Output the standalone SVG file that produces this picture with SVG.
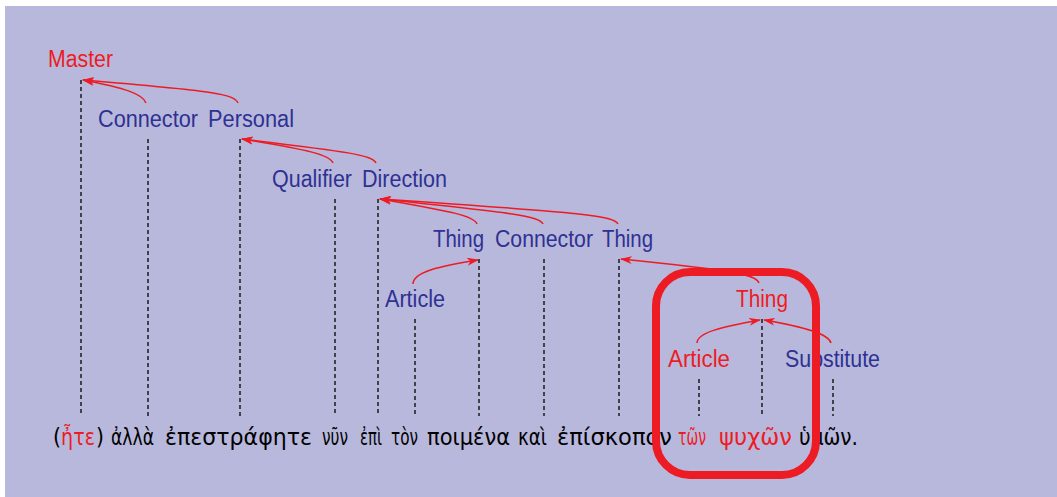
<svg xmlns="http://www.w3.org/2000/svg" width="1057" height="497" viewBox="0 0 1057 497">
<style>
.lbl{font-family:"Liberation Sans",Arial,sans-serif;font-size:23px}
.b{fill:#2e3192}
.r{fill:#ed1c24}
.dash{stroke:#1a1a1a;stroke-width:1.5;stroke-dasharray:4 3;fill:none}
.arr{stroke:#ed1c24;stroke-width:1.5;fill:none;marker-end:url(#ah)}
.gk{font-family:"DejaVu Sans","Noto Sans",sans-serif;font-size:23px;fill:#000}
</style>
<defs>
<marker id="ah" viewBox="0 0 12 8" refX="11" refY="4" markerWidth="12" markerHeight="8" markerUnits="userSpaceOnUse" orient="auto">
<path d="M0,0 L12,4 L0,8 L3.5,4 Z" fill="#ed1c24"/>
</marker>
</defs>
<rect x="0" y="0" width="1057" height="497" fill="#ffffff"/>
<rect x="5" y="6" width="1052" height="491" fill="#b8b8dc"/>

<g id="n-master"><line class="dash" x1="81" y1="80" x2="81" y2="416"/><text class="lbl r" x="48" y="67" textLength="65" lengthAdjust="spacingAndGlyphs">Master</text></g>
<g id="n-connector1"><line class="dash" x1="148" y1="139" x2="148" y2="416"/><text class="lbl b" x="98" y="127" textLength="100" lengthAdjust="spacingAndGlyphs">Connector</text></g>
<g id="n-personal"><line class="dash" x1="240" y1="139" x2="240" y2="416"/><text class="lbl b" x="208" y="127" textLength="86" lengthAdjust="spacingAndGlyphs">Personal</text></g>
<g id="n-qualifier"><line class="dash" x1="335" y1="199" x2="335" y2="416"/><text class="lbl b" x="272" y="187" textLength="80" lengthAdjust="spacingAndGlyphs">Qualifier</text></g>
<g id="n-direction"><line class="dash" x1="378" y1="199" x2="378" y2="416"/><text class="lbl b" x="362" y="187" textLength="85" lengthAdjust="spacingAndGlyphs">Direction</text></g>
<g id="n-article1"><line class="dash" x1="415" y1="319" x2="415" y2="416"/><text class="lbl b" x="385" y="307" textLength="60" lengthAdjust="spacingAndGlyphs">Article</text></g>
<g id="n-thing1"><line class="dash" x1="479" y1="259" x2="479" y2="416"/><text class="lbl b" x="433" y="247" textLength="51" lengthAdjust="spacingAndGlyphs">Thing</text></g>
<g id="n-connector2"><line class="dash" x1="544" y1="259" x2="544" y2="416"/><text class="lbl b" x="495" y="247" textLength="98" lengthAdjust="spacingAndGlyphs">Connector</text></g>
<g id="n-thing2"><line class="dash" x1="619" y1="259" x2="619" y2="416"/><text class="lbl b" x="602" y="247" textLength="51" lengthAdjust="spacingAndGlyphs">Thing</text></g>
<g id="n-article2"><line class="dash" x1="699" y1="379" x2="699" y2="416"/><text class="lbl r" x="668" y="367" textLength="62" lengthAdjust="spacingAndGlyphs">Article</text></g>
<g id="n-thing3"><line class="dash" x1="762" y1="319" x2="762" y2="416"/><text class="lbl r" x="736" y="307" textLength="52" lengthAdjust="spacingAndGlyphs">Thing</text></g>
<g id="n-substitute"><line class="dash" x1="833" y1="379" x2="833" y2="416"/><text class="lbl b" x="785" y="367" textLength="95" lengthAdjust="spacingAndGlyphs">Substitute</text></g>

<g id="connectors">
<path class="arr" d="M146,103 C143,94 125,88 83,80"/>
<path class="arr" d="M238,103 C234,94 215,91 83,80"/>
<path class="arr" d="M333,163 C330,155 310,150 242,139"/>
<path class="arr" d="M376,163 C372,155 350,152 242,139"/>
<path class="arr" d="M477,224 C474,216 455,212 380,199"/>
<path class="arr" d="M543,224 C539,216 515,213 380,199"/>
<path class="arr" d="M618,224 C614,216 590,213 380,199"/>
<path class="arr" d="M413,284 C413,272 440,266 478,260"/>
<path class="arr" d="M759,283 C756,274 730,270 621,259"/>
<path class="arr" d="M697,343 C697,333 720,327 760,320"/>
<path class="arr" d="M831,343 C829,334 805,327 764,320"/>
</g>

<g id="sentence">
<text class="gk" y="445"><tspan x="53" textLength="8" lengthAdjust="spacingAndGlyphs">(</tspan><tspan x="61" textLength="34" lengthAdjust="spacingAndGlyphs" fill="#ed1c24">ἦτε</tspan><tspan x="96" textLength="8" lengthAdjust="spacingAndGlyphs">)</tspan><tspan x="111" textLength="43" lengthAdjust="spacingAndGlyphs">ἀλλὰ</tspan><tspan x="165" textLength="147" lengthAdjust="spacingAndGlyphs">ἐπεστράφητε</tspan><tspan x="322" textLength="26" lengthAdjust="spacingAndGlyphs">νῦν</tspan><tspan x="360" textLength="22" lengthAdjust="spacingAndGlyphs">ἐπὶ</tspan><tspan x="391" textLength="27" lengthAdjust="spacingAndGlyphs">τὸν</tspan><tspan x="427" textLength="83" lengthAdjust="spacingAndGlyphs">ποιμένα</tspan><tspan x="518" textLength="29" lengthAdjust="spacingAndGlyphs">καὶ</tspan><tspan x="557" textLength="115" lengthAdjust="spacingAndGlyphs">ἐπίσκοπον</tspan><tspan x="678" textLength="28" lengthAdjust="spacingAndGlyphs" fill="#ed1c24">τῶν</tspan><tspan x="719" textLength="73" lengthAdjust="spacingAndGlyphs" fill="#ed1c24">ψυχῶν</tspan><tspan x="799" textLength="59" lengthAdjust="spacingAndGlyphs">ὑμῶν.</tspan></text>
</g>

<g id="highlight">
<rect x="656" y="272" width="160" height="203" rx="34" ry="34" fill="none" stroke="#ed1c24" stroke-width="8"/>
</g>
</svg>
